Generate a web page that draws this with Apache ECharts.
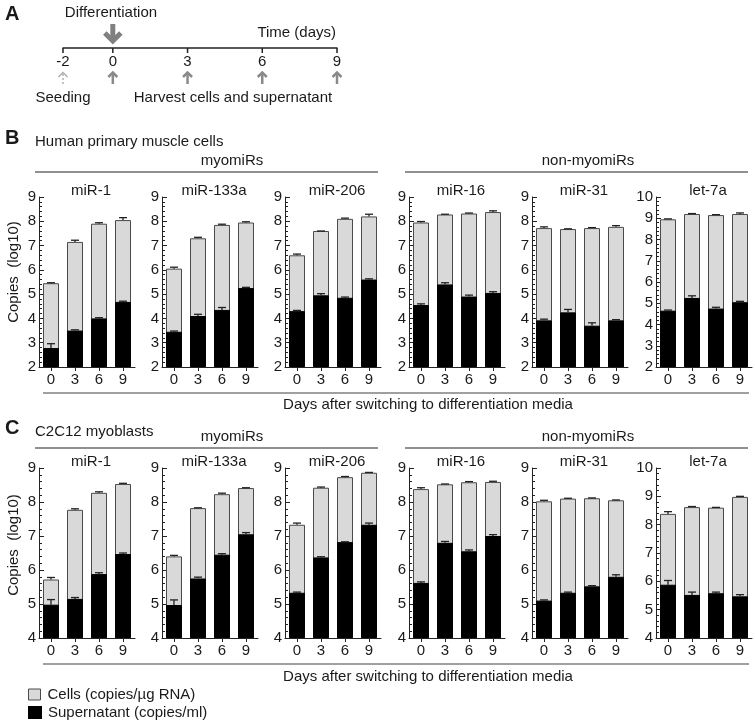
<!DOCTYPE html>
<html>
<head>
<meta charset="utf-8">
<script src="https://cdn.jsdelivr.net/npm/echarts@6/dist/echarts.min.js"></script>
<style>
html,body{margin:0;padding:0;background:#fff;}
#chart{width:755px;height:725px;}
</style>
</head>
<body>
<div id="chart"></div>
<script>
// ---------- DATA ----------
const days = ['0', '3', '6', '9'];
const mirs = ['miR-1', 'miR-133a', 'miR-206', 'miR-16', 'miR-31', 'let-7a'];
const timepoints = [-2, 0, 3, 6, 9];
const timeLabels = ['-2', '0', '3', '6', '9'];

// Panel B: Human primary muscle cells (log10 copies)
const hCells    = [[5.45, 7.15, 7.90, 8.05], [6.05, 7.30, 7.85, 7.95], [6.60, 7.60, 8.10, 8.20],
                   [7.95, 8.28, 8.32, 8.38], [7.72, 7.68, 7.72, 7.77], [8.95, 9.20, 9.15, 9.20]];
const hCellsErr = [[0.02, 0.07, 0.04, 0.10], [0.06, 0.04, 0.03, 0.03], [0.05, 0.00, 0.03, 0.09],
                   [0.04, 0.01, 0.02, 0.05], [0.05, 0.01, 0.02, 0.05], [0.02, 0.02, 0.02, 0.05]];
const hSup      = [[2.78, 3.50, 4.00, 4.68], [3.45, 4.10, 4.35, 5.25], [4.30, 4.95, 4.85, 5.60],
                   [4.55, 5.40, 4.90, 5.05], [3.92, 4.25, 3.70, 3.92], [4.65, 5.25, 4.75, 5.05]];
const hSupErr   = [[0.18, 0.03, 0.03, 0.03], [0.03, 0.07, 0.10, 0.03], [0.03, 0.07, 0.03, 0.03],
                   [0.05, 0.07, 0.06, 0.05], [0.05, 0.12, 0.12, 0.03], [0.03, 0.10, 0.06, 0.04]];
const hYMin = [2, 2, 2, 2, 2, 2];
const hYMax = [9, 9, 9, 9, 9, 10];

// Panel C: C2C12 myoblasts (log10 copies)
const cCells    = [[5.72, 7.77, 8.27, 8.53], [6.40, 7.82, 8.23, 8.41], [7.33, 8.42, 8.73, 8.86],
                   [8.38, 8.52, 8.58, 8.59], [8.02, 8.10, 8.11, 8.05], [8.38, 8.62, 8.60, 8.98]];
const cCellsErr = [[0.06, 0.03, 0.03, 0.02], [0.03, 0.01, 0.03, 0.01], [0.05, 0.02, 0.02, 0.01],
                   [0.04, 0.01, 0.02, 0.02], [0.03, 0.01, 0.01, 0.01], [0.08, 0.02, 0.01, 0.02]];
const cSup      = [[4.98, 5.15, 5.88, 6.47], [4.97, 5.75, 6.45, 7.05], [5.33, 6.37, 6.82, 7.33],
                   [5.62, 6.80, 6.55, 7.00], [5.10, 5.33, 5.52, 5.80], [5.88, 5.52, 5.58, 5.47]];
const cSupErr   = [[0.15, 0.04, 0.04, 0.03], [0.15, 0.04, 0.03, 0.05], [0.02, 0.02, 0.01, 0.05],
                   [0.03, 0.04, 0.04, 0.04], [0.02, 0.02, 0.02, 0.06], [0.15, 0.10, 0.04, 0.06]];
const cYMin = [4, 4, 4, 4, 4, 4];
const cYMax = [9, 9, 9, 9, 9, 10];

const cellsName = 'Cells (copies/\u00b5g RNA)';
const supName = 'Supernatant (copies/ml)';

// ---------- LAYOUT / STYLE ----------
const FONT = '"Liberation Sans", Arial, Helvetica, sans-serif';
const TXT = '#1a1a1a';
const AX = '#222';
const GRAY = '#d9d9d9';
const gridLefts = [39, 162, 285, 409, 532, 656];
const gridW = 96;
const panels = [
  { top: 197, cells: hCells, cellsErr: hCellsErr, sup: hSup, supErr: hSupErr, ymin: hYMin, ymax: hYMax },
  { top: 468, cells: cCells, cellsErr: cCellsErr, sup: cSup, supErr: cSupErr, ymin: cYMin, ymax: cYMax }
];
const gridH = 170;

const grids = [], xAxes = [], yAxes = [], series = [];

function errRender(params, api) {
  const idx = api.value(0), v = api.value(1), e = api.value(2);
  const p0 = api.coord([idx, v]);
  const p1 = api.coord([idx, v + e]);
  return {
    type: 'group',
    children: [
      { type: 'line', shape: { x1: p0[0], y1: p0[1], x2: p1[0], y2: p1[1] }, style: { stroke: '#222', lineWidth: 1.3 } },
      { type: 'line', shape: { x1: p1[0] - 4, y1: p1[1], x2: p1[0] + 4, y2: p1[1] }, style: { stroke: '#222', lineWidth: 1.3 } }
    ]
  };
}

// Panel A timeline grid (index 0)
grids.push({ left: 63, width: 274, top: 38, height: 10 });
xAxes.push({ gridIndex: 0, type: 'value', min: -2, max: 9, position: 'bottom',
  axisLine: { show: true, onZero: false, lineStyle: { color: AX, width: 1.5 } },
  axisTick: { show: false }, axisLabel: { show: false }, splitLine: { show: false } });
yAxes.push({ gridIndex: 0, type: 'value', min: 0, max: 1, show: false });
series.push({
  type: 'custom', xAxisIndex: 0, yAxisIndex: 0, silent: true,
  data: timepoints.map((t, i) => [t, 0, i]),
  renderItem: function (params, api) {
    const t = api.value(0), i = api.value(2);
    const p = api.coord([t, 0]);
    const x = p[0], y = p[1];
    const seed = t < 0;
    const col = seed ? '#b0b0b0' : '#8a8a8a';
    const ch = [
      { type: 'line', shape: { x1: x, y1: y, x2: x, y2: y + 5 }, style: { stroke: AX, lineWidth: 1.5 } },
      { type: 'text', x: x, y: y + 14, style: { text: timeLabels[i], fontSize: 15, fontFamily: FONT, fill: TXT, align: 'center', verticalAlign: 'middle' } },
      { type: 'line', shape: { x1: x, y1: y + 26, x2: x, y2: y + 36 }, style: { stroke: col, lineWidth: seed ? 1.5 : 2.5, lineDash: seed ? [2, 2] : null } },
      { type: 'polyline', shape: { points: [[x - 4.5, y + 29], [x, y + 24.5], [x + 4.5, y + 29]] }, style: { stroke: col, lineWidth: seed ? 1.5 : 2.5, fill: null } }
    ];
    if (t === 0) {
      ch.push({ type: 'line', shape: { x1: x, y1: y - 24, x2: x, y2: y - 8 }, style: { stroke: '#808080', lineWidth: 5 } });
      ch.push({ type: 'polyline', shape: { points: [[x - 8, y - 15], [x, y - 7], [x + 8, y - 15]] }, style: { stroke: '#808080', lineWidth: 5, fill: null, lineJoin: 'miter' } });
    }
    return { type: 'group', children: ch };
  }
});

panels.forEach((pn, pi) => {
  for (let k = 0; k < 6; k++) {
    const gi = grids.length;
    grids.push({ left: gridLefts[k], width: gridW, top: pn.top, height: gridH });
    xAxes.push({
      gridIndex: gi, type: 'category', data: days,
      axisLine: { show: true, onZero: false, lineStyle: { color: AX, width: 1 } },
      axisTick: { show: true, alignWithLabel: true, length: 4, lineStyle: { color: AX } },
      axisLabel: { fontSize: 15, fontFamily: FONT, color: TXT, margin: 5 },
      splitLine: { show: false }
    });
    yAxes.push({
      gridIndex: gi, type: 'value', min: pn.ymin[k], max: pn.ymax[k], interval: 1, startValue: pn.ymin[k],
      axisLine: { show: true, lineStyle: { color: AX, width: 1 } },
      axisTick: { show: true, inside: true, length: 5, lineStyle: { color: AX } },
      minorTick: { show: true, splitNumber: 5, length: 3, lineStyle: { color: AX } },
      axisLabel: { fontSize: 15, fontFamily: FONT, color: TXT, margin: 3 },
      splitLine: { show: false }
    });
    series.push({
      name: cellsName, type: 'bar', xAxisIndex: gi, yAxisIndex: gi, barWidth: 16, barGap: '-100%',
      data: pn.cells[k], z: 2, silent: true, clip: true,
      itemStyle: { color: GRAY, borderColor: '#4a4a4a', borderWidth: 1 }
    });
    series.push({
      type: 'custom', xAxisIndex: gi, yAxisIndex: gi, z: 3, silent: true,
      data: pn.cells[k].map((v, i) => [i, v, pn.cellsErr[k][i]]),
      encode: { x: 0, y: 1 }, renderItem: errRender
    });
    series.push({
      name: supName, type: 'bar', xAxisIndex: gi, yAxisIndex: gi, barWidth: 16, barGap: '-100%',
      data: pn.sup[k], z: 4, silent: true, clip: true,
      itemStyle: { color: '#000', borderColor: '#000', borderWidth: 1 }
    });
    series.push({
      type: 'custom', xAxisIndex: gi, yAxisIndex: gi, z: 5, silent: true,
      data: pn.sup[k].map((v, i) => [i, v, pn.supErr[k][i]]),
      encode: { x: 0, y: 1 }, renderItem: errRender
    });
  }
});

function txt(s, x, y, opts) {
  return Object.assign({ type: 'text', x: x, y: y, silent: true,
    style: Object.assign({ text: s, fontSize: 15, fontFamily: FONT, fill: TXT, align: 'left', verticalAlign: 'middle' }, opts || {}) });
}
function hline(x1, x2, y, col, w) {
  return { type: 'line', silent: true, shape: { x1: x1, y1: y, x2: x2, y2: y }, style: { stroke: col, lineWidth: w } };
}

const graphics = [
  txt('A', 5, 14, { fontSize: 20, fontWeight: 'bold' }),
  txt('Differentiation', 111, 13, { align: 'center' }),
  txt('Time (days)', 336, 33, { align: 'right' }),
  txt('Seeding', 63, 98, { align: 'center' }),
  txt('Harvest cells and supernatant', 233, 98, { align: 'center' }),

  txt('B', 5, 138, { fontSize: 20, fontWeight: 'bold' }),
  txt('Human primary muscle cells', 35, 142),
  txt('myomiRs', 232, 161, { align: 'center' }),
  txt('non-myomiRs', 588, 161, { align: 'center' }),
  hline(35, 378, 172, AX, 1.2),
  hline(405, 748, 172, AX, 1.2),
  hline(43, 749, 393, '#808080', 1.6),
  txt('Days after switching to differentiation media', 428, 405, { align: 'center' }),

  txt('C', 5, 428, { fontSize: 20, fontWeight: 'bold' }),
  txt('C2C12 myoblasts', 35, 432),
  txt('myomiRs', 232, 437, { align: 'center' }),
  txt('non-myomiRs', 588, 437, { align: 'center' }),
  hline(35, 378, 448, AX, 1.2),
  hline(405, 748, 448, AX, 1.2),
  hline(43, 749, 664, '#808080', 1.6),
  txt('Days after switching to differentiation media', 428, 677, { align: 'center' }),

  { type: 'text', x: 14, y: 272, rotation: Math.PI / 2, silent: true,
    style: { text: 'Copies  (log10)', fontSize: 15, fontFamily: FONT, fill: TXT, align: 'center', verticalAlign: 'middle' } },
  { type: 'text', x: 14, y: 545, rotation: Math.PI / 2, silent: true,
    style: { text: 'Copies  (log10)', fontSize: 15, fontFamily: FONT, fill: TXT, align: 'center', verticalAlign: 'middle' } }
];
// subplot titles
panels.forEach((pn, pi) => {
  const ty = pi === 0 ? 191 : 462;
  mirs.forEach((m, k) => {
    graphics.push(txt(m, gridLefts[k] + gridW / 2 + 4, ty, { align: 'center' }));
  });
});

const legendBase = {
  orient: 'vertical', left: 28, padding: 0,
  itemWidth: 12, itemHeight: 11, icon: 'rect', selectedMode: false,
  textStyle: { fontSize: 15, fontFamily: FONT, color: TXT, padding: [0, 0, 0, 2] }
};

const option = {
  animation: false,
  backgroundColor: '#fff',
  legend: [
    Object.assign({}, legendBase, { top: 687,
      data: [{ name: cellsName, itemStyle: { color: GRAY, borderColor: '#4a4a4a', borderWidth: 1 } }] }),
    Object.assign({}, legendBase, { top: 705,
      data: [{ name: supName, itemStyle: { color: '#000' } }] })
  ],
  grid: grids, xAxis: xAxes, yAxis: yAxes, series: series, graphic: graphics
};

const chart = echarts.init(document.getElementById('chart'), null, { renderer: 'canvas' });
chart.setOption(option);
</script>
</body>
</html>
